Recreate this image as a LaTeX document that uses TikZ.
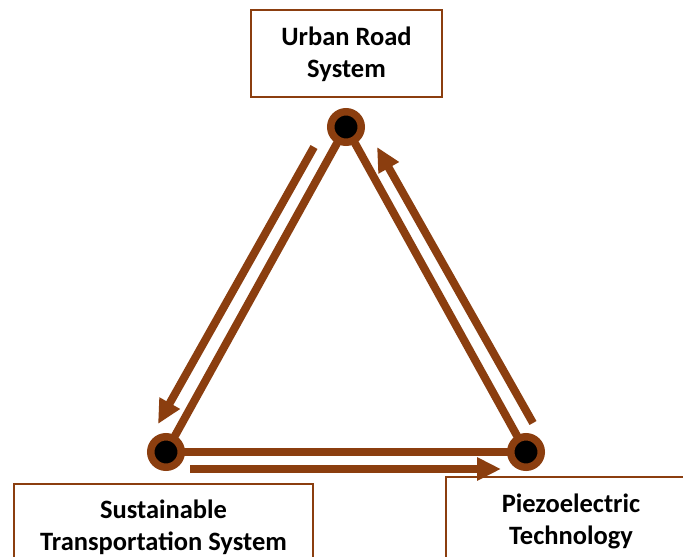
\documentclass[tikz,border=0pt]{standalone}
\usepackage{fontspec}
\setmainfont{Carlito}
\usetikzlibrary{arrows.meta}
\definecolor{brn}{RGB}{139,62,15}
\tikzset{
  sideline/.style={draw=brn, line width=8pt},
  flowarrow/.style={draw=brn, line width=8pt, -{Triangle[length=24pt,width=22pt]}},
  joint/.style={circle, fill=black, draw=brn, line width=7.5pt, minimum size=30.5pt, inner sep=0pt},
  boxframe/.style={draw=brn, line width=1.5pt, rectangle, inner sep=0pt},
  boxtext/.style={font=\fontsize{26.5}{32}\selectfont\bfseries, align=center, inner sep=0pt}
}
\begin{document}
\begin{tikzpicture}[x=1pt,y=-1pt]
\useasboundingbox (0,0) rectangle (683,557);
\clip (0,0) rectangle (683,557);
\fill[white] (0,0) rectangle (683,557);
% boxes
\node[boxframe, minimum width=191pt, minimum height=87pt] (topbox) at (346.5,53.5) {};
\node[boxtext] (toptext) at (346.5,54) {Urban Road\\System};
\node[boxframe, minimum width=299pt, minimum height=116pt] (leftbox) at (163.5,542) {};
\node[boxtext] (lefttext) at (163.5,527.5) {Sustainable\\Transportation System};
\node[boxframe, minimum width=254pt, minimum height=123pt] (rightbox) at (573,538.5) {};
\node[boxtext] (righttext) at (571,521) {Piezoelectric\\Technology};
% joints positions
\coordinate (T) at (346,127);
\coordinate (L) at (166,452);
\coordinate (R) at (526,452);
% triangle
\draw[sideline] (T) -- (L);
\draw[sideline] (T) -- (R);
\draw[sideline] (L) -- (R);
\node[joint] (topj) at (T) {};
\node[joint] (leftj) at (L) {};
\node[joint] (rightj) at (R) {};
% arrows
\coordinate (a1s) at (314,147);
\coordinate (a1e) at (158,424);
\coordinate (a2s) at (533,423);
\coordinate (a2e) at (377,147);
\coordinate (a3s) at (190,469);
\coordinate (a3e) at (501,469);
\draw[flowarrow] (a1s) -- (a1e);
\draw[flowarrow] (a2s) -- (a2e);
\draw[flowarrow] (a3s) -- (a3e);
\end{tikzpicture}
\end{document}
